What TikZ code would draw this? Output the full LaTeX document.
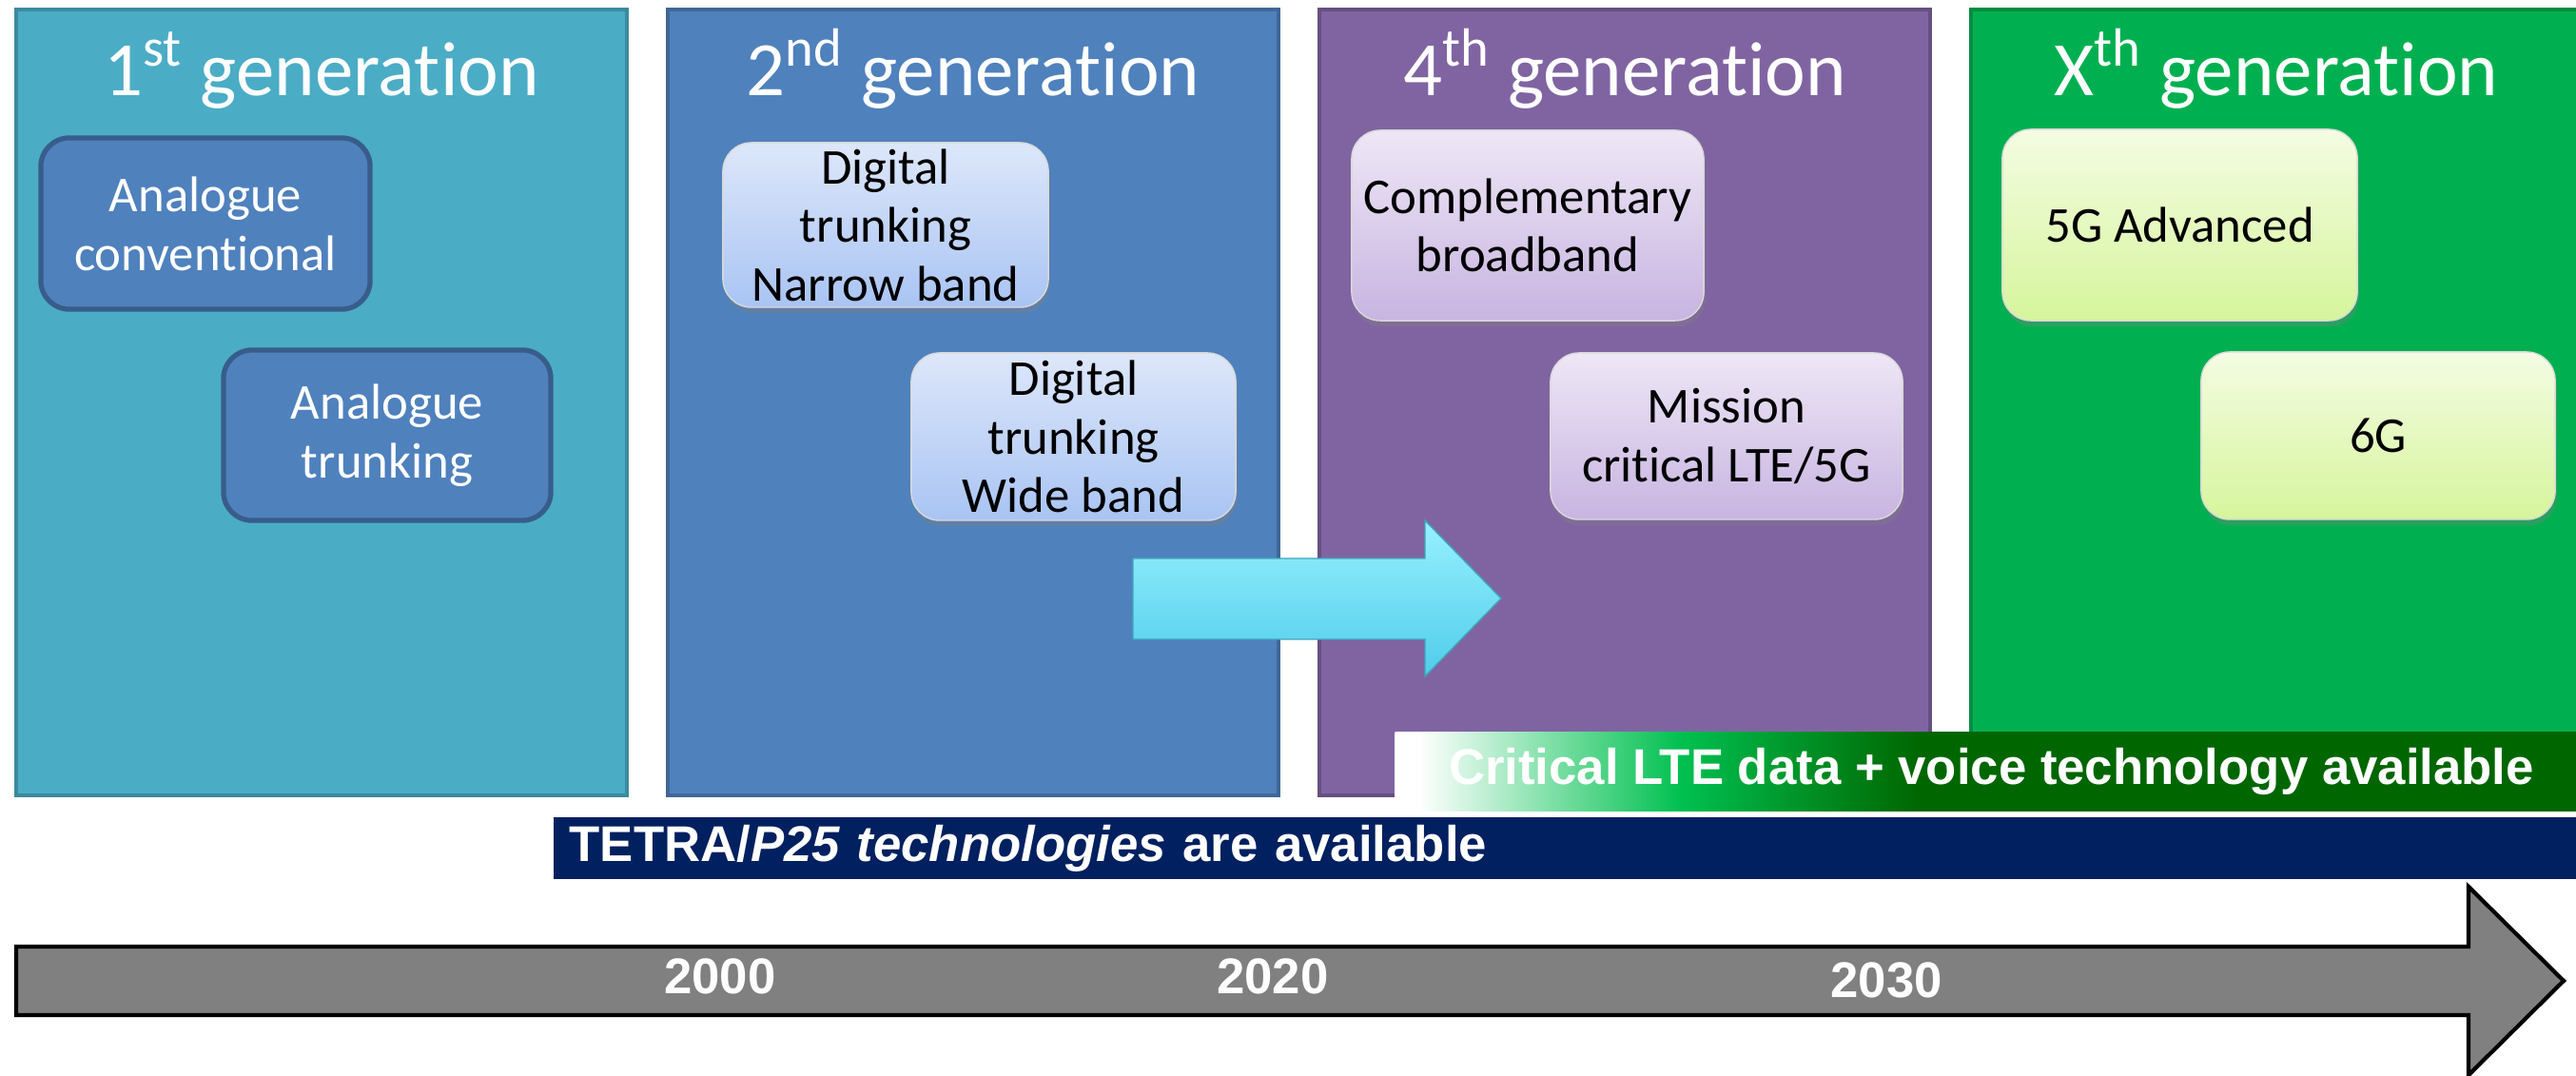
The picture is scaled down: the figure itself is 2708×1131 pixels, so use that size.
\documentclass[tikz,border=0pt]{standalone}
\usepackage{fontspec}
\setmainfont{Carlito}[Ligatures=NoCommon]
\newfontfamily\arialfont{Liberation Sans}
\usepackage{tikz}
\usetikzlibrary{shadows}

\definecolor{genaqua}{HTML}{4BACC6}
\definecolor{genblue}{HTML}{4F81BD}
\definecolor{genpurple}{HTML}{8064A2}
\definecolor{gengreen}{HTML}{00B050}
\definecolor{boxedge}{HTML}{385D8A}
\definecolor{bluetop}{HTML}{DDE7FA}
\definecolor{bluebot}{HTML}{A9C4F3}
\definecolor{purptop}{HTML}{EEE7F6}
\definecolor{purpbot}{HTML}{C8B4E1}
\definecolor{greentop}{HTML}{F4FCE3}
\definecolor{greenbot}{HTML}{D6F59C}
\definecolor{cyantop}{HTML}{97F1FF}
\definecolor{cyanbot}{HTML}{50CCEA}
\definecolor{tetranavy}{HTML}{002060}
\definecolor{ltegreen}{HTML}{00C050}
\definecolor{ltedark}{HTML}{006600}
\definecolor{timegray}{HTML}{808080}

\pgfdeclarehorizontalshading{ltefade}{100bp}{color(0bp)=(white); color(26bp)=(white); color(37bp)=(ltegreen); color(47bp)=(ltedark); color(100bp)=(ltedark)}

\begin{document}
\begin{tikzpicture}[x=0.01cm, y=-0.01cm,
    panel/.style={draw=#1!80!black, fill=#1, line width=1pt, minimum width=6.42cm, minimum height=8.26cm, inner sep=0pt},
    gentitle/.style={text=white, anchor=base, font=\fontsize{23}{28}\selectfont},
    darkbox/.style={draw=boxedge, fill=genblue, line width=1.5pt, rounded corners=0.3cm, text=white, align=center, inner sep=0pt, font=\fontsize{15}{17.6}\selectfont},
    lightbox/.style 2 args={top color=#1, bottom color=#2, draw=black!15, thin, rounded corners=0.3cm, align=center, inner sep=0pt, font=\fontsize{15}{17.5}\selectfont, drop shadow={shadow xshift=0.5pt, shadow yshift=-1.8pt, opacity=0.35}},
    bar/.style={text=white, inner sep=0pt, font=\arialfont\bfseries\fontsize{15}{18}\selectfont},
    year/.style={text=white, font=\arialfont\bfseries\fontsize{15}{18}\selectfont}]
    \useasboundingbox (0,0) rectangle (2708,1131);

    \foreach \col/\cx/\nm/\num/\ord in {genaqua/338/gen1/1/st, genblue/1023/gen2/2/nd, genpurple/1708/gen3/4/th, gengreen/2393/gen4/X/th} {
        \node[panel=\col] (\nm) at (\cx,423) {};
        \node[gentitle] (\nm-title) at (\cx,101) {\num\textsuperscript{\ord} generation};
    }

    \node[darkbox, minimum width=3.46cm, minimum height=1.8cm] (anconv) at (216,235) {Analogue\\conventional};
    \node[darkbox, minimum width=3.44cm, minimum height=1.79cm] (antrunk) at (407,457.5) {Analogue\\trunking};
    \node[lightbox={bluetop}{bluebot}, minimum width=3.42cm, minimum height=1.73cm] (narrow) at (931,236.5) {Digital\\trunking\\Narrow band};
    \node[lightbox={bluetop}{bluebot}, minimum width=3.41cm, minimum height=1.76cm] (wide) at (1128.5,459) {Digital\\trunking\\Wide band};
    \node[lightbox={purptop}{purpbot}, minimum width=3.7cm, minimum height=2cm] (compl) at (1606,237) {Complementary\\broadband};
    \node[lightbox={purptop}{purpbot}, minimum width=3.7cm, minimum height=1.75cm] (mission) at (1815,458.5) {Mission\\critical LTE/5G};
    \node[lightbox={greentop}{greenbot}, minimum width=3.73cm, minimum height=2.01cm] (adv) at (2291.5,236.5) {5G Advanced};
    \node[lightbox={greentop}{greenbot}, minimum width=3.72cm, minimum height=1.76cm] (six) at (2500,458) {6G};

    \shade[top color=cyantop, bottom color=cyanbot, draw=cyanbot!80!black, thin] (1191,587) -- (1498,587) -- (1498,547) -- (1578,629) -- (1498,711) -- (1498,672) -- (1191,672) -- cycle;

    \node[bar, shading=ltefade, minimum width=12.53cm, minimum height=0.82cm] (lte) at (2093.5,811) {Critical LTE data + voice technology available};
    \node[bar, fill=tetranavy, anchor=west, minimum width=21.4cm, minimum height=0.65cm, inner xsep=0.17cm, text width=21.06cm, align=left] (tetra) at (581,891.5) {TETRA/\textit{P25 technologies} are available};

    \draw[fill=timegray, line width=1.2pt] (17,995) -- (2595,995) -- (2595,932) -- (2695,1031) -- (2595,1130) -- (2595,1067) -- (17,1067) -- cycle;
    \node[year] (y2000) at (757,1026) {2000};
    \node[year] (y2020) at (1338,1026) {2020};
    \node[year] (y2030) at (1983,1030) {2030};
\end{tikzpicture}
\end{document}
